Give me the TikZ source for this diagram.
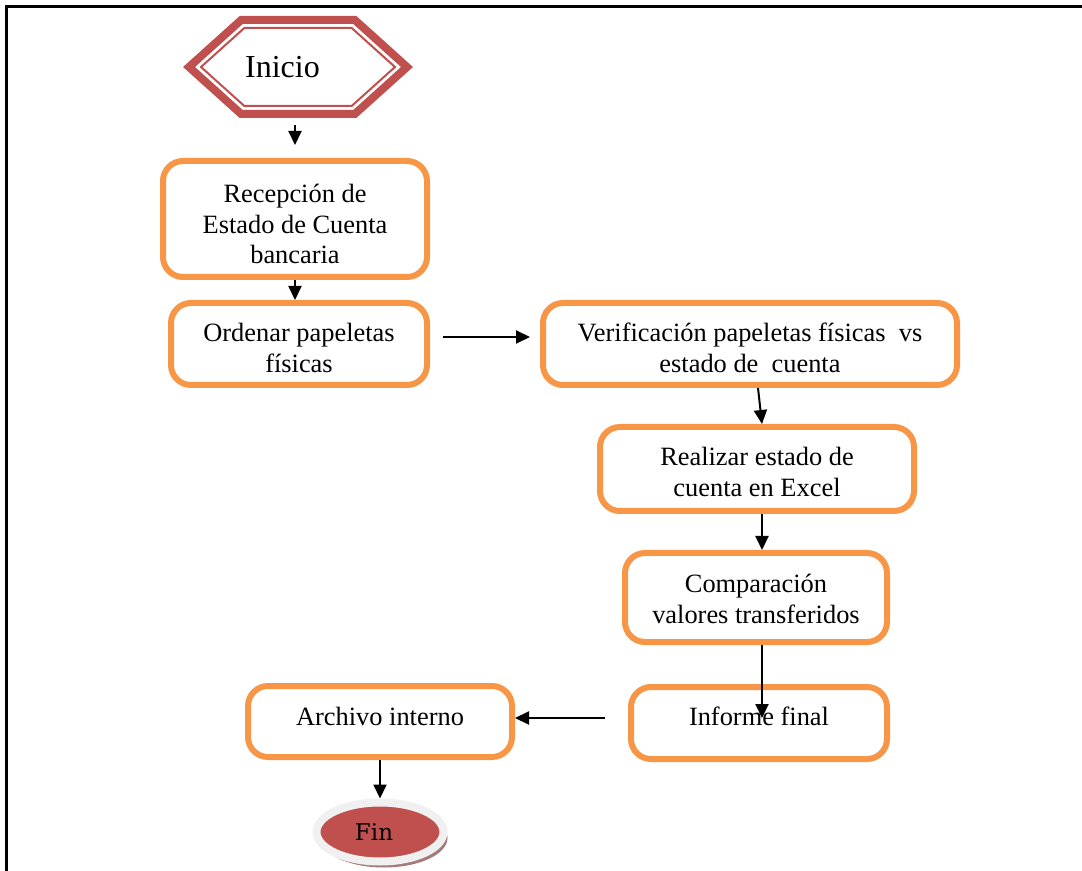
\documentclass[tikz,border=0pt]{standalone}
\usepackage{fontspec}
\setmainfont{Liberation Serif}
\newfontfamily\finfont{DejaVu Serif}
\usetikzlibrary{positioning,arrows.meta,calc,shapes.symbols,shapes.geometric,shadows}
\definecolor{naranja}{HTML}{F79646}
\definecolor{rojo}{HTML}{C0504D}
\definecolor{borde}{HTML}{F0F0F0}
\definecolor{sombra}{HTML}{8C5A58}
% texto de varias lineas, un poco mas abajo
\newcommand{\bajo}[2][3.5pt]{\raisebox{-#1}[\height][\depth]{\begin{tabular}{@{}c@{}}#2\end{tabular}}}
\tikzset{
  arr/.style={-{Triangle[length=7pt,width=6.5pt]}, line width=1pt, color=black},
  caja/.style={draw=naranja, line width=3pt, rounded corners=10pt, align=center,
               inner sep=0pt, font=\fontsize{13.2}{15.4}\selectfont},
  uno/.style={execute at begin node={\rule{0pt}{12.5pt}}},
  hexo/.style={signal, signal to=east and west, signal pointer angle=84, draw=rojo,
               line width=4pt, minimum width=109pt, minimum height=47pt, inner sep=0pt,
               font=\fontsize{16}{19}\selectfont},
  hexi/.style={signal, signal to=east and west, signal pointer angle=84, draw=rojo,
               line width=1pt, minimum width=97pt, minimum height=39pt, inner sep=0pt},
  finS/.style={ellipse, draw=borde, fill=rojo, line width=4pt, minimum width=63.5pt,
               minimum height=29.5pt, inner sep=0pt, font=\finfont\fontsize{11.5}{13}\selectfont,
               drop shadow={shadow xshift=2pt, shadow yshift=-3pt, fill=sombra, opacity=.8}},
}
\begin{document}
\begin{tikzpicture}[x=0.5pt, y=-0.5pt]
  \useasboundingbox (0,0) rectangle (1082,871);
  % marco de la tabla
  \draw[line width=1.5pt] (6,871) -- (6,6.5) -- (1082,6.5);

  \node[hexo] (ini) at (298,67) {Inicio\hspace{15.5pt}\mbox{}};
  \node[hexi] (iniIn) at (ini.center) {};

  \node[caja, minimum width=132pt, minimum height=58pt] (rec) at (295,219)
       {\bajo[4pt]{Recepción de\\Estado de Cuenta\\bancaria}};
  \node[caja, minimum width=128pt, minimum height=41pt] (ord) at (299,344)
       {\bajo[3.25pt]{Ordenar papeletas\\físicas}};
  \node[caja, minimum width=207pt, minimum height=41pt] (ver) at (750,344)
       {\bajo{Verificación papeletas físicas\ \ vs\\estado de\ \ cuenta}};
  \node[caja, minimum width=157pt, minimum height=42pt] (rea) at (757,469)
       {\bajo[3pt]{Realizar estado de\\cuenta en Excel}};
  \node[caja, minimum width=131pt, minimum height=44.5pt] (com) at (756,597.5)
       {\bajo[2.25pt]{Comparación\\valores transferidos}};
  \node[caja, uno, minimum width=128pt, minimum height=36pt, text depth=10.5pt] (inf) at (759,723)
       {Informe final};
  \node[caja, uno, minimum width=132pt, minimum height=35.5pt, text depth=9pt] (arc) at (380,721.5)
       {Archivo interno};
  \node[finS] (fin) at (380,832) {Fin\hspace{6pt}\mbox{}};

  \draw[arr, shorten <=3.5pt, shorten >=6.5pt] (ini.south -| rec.north) -- (rec.north);
  \draw[arr] (rec.south) -- (rec.south |- ord.north);
  \draw[arr, shorten <=6.5pt, shorten >=5pt] ([yshift=3.5pt]ord.east) -- ([yshift=3.5pt]ver.west);
  \draw[arr] ([xshift=4pt]ver.south) -- ([xshift=2.5pt]rea.north);
  \draw[arr] ([xshift=2.5pt]rea.south) -- ([xshift=3pt]com.north);
  \draw[arr, shorten >=2.5pt] ([xshift=3pt]com.south) -- ([xshift=3pt]com.south |- inf.center);
  \draw[arr, shorten <=11.5pt] ([yshift=2.5pt]inf.west) -- ([yshift=2.5pt]inf.west -| arc.east);
  \draw[arr] (arc.south) -- (arc.south |- fin.north);
\end{tikzpicture}
\end{document}
